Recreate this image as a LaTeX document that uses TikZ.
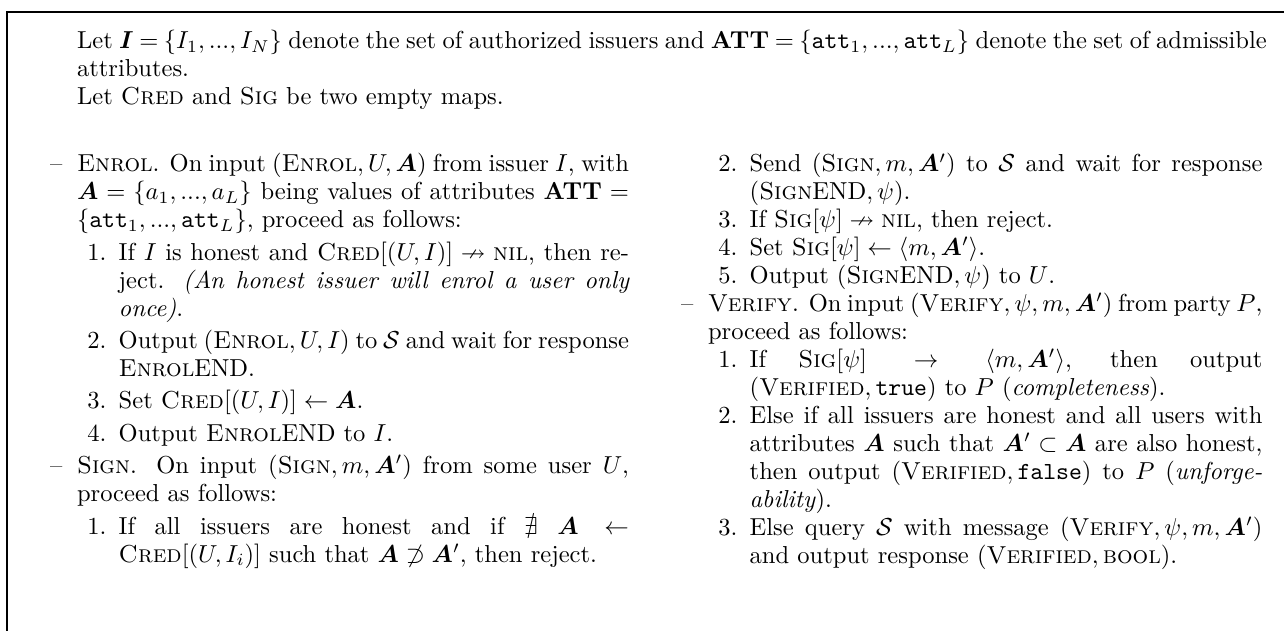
\documentclass[tikz,border=0pt]{standalone}
\usepackage{amsmath,amssymb}
\usepackage{bm}
\usepackage{enumitem}
\usetikzlibrary{calc}

\newcommand{\boxfont}{\fontsize{10}{11.4}\selectfont}
\newcommand{\tightsp}{\spaceskip=3.33pt plus 1.66pt minus 1.6pt\thickmuskip=5mu plus 5mu minus 2mu\relax}
\newcommand{\normalsp}{\spaceskip=0pt\thickmuskip=5mu plus 5mu\relax}

\setlist[itemize]{label={--}, leftmargin=10pt, labelsep=6pt, align=right, topsep=0pt, partopsep=0pt, parsep=0pt, itemsep=1.8pt}
\setlist[enumerate]{label=\arabic*., leftmargin=17pt, labelsep=5pt, align=right, topsep=1.8pt, partopsep=0pt, parsep=0pt, itemsep=1.8pt}

\begin{document}
\begin{tikzpicture}[x=1pt, y=1pt, txt/.style={anchor=base west, inner sep=0pt, outer sep=0pt}]

	\useasboundingbox (0,0) rectangle (523.4,-257.2);
	\clip (0,0) rectangle (523.4,-257.2);

	% frame, runs out of the page on the right and at the bottom
	\coordinate (f0) at (2.85,-4.9);
	\coordinate (f1) at (560,-300);
	\draw[line width=0.75pt] (f0) rectangle (f1);

	\coordinate (top) at (31.4,-19.8);
	\coordinate (colL) at (21.4,-70.1);
	\coordinate (colR) at (278.6,-70.1);

	\node[txt] (defs) at (top) {\begin{minipage}[t]{485pt}\boxfont\tightsp
		Let $\bm{I} = \{I_1, ..., I_N\}$ denote the set of authorized issuers and $\mathbf{ATT} = \{\mathtt{att}_1, ..., \mathtt{att}_L\}$ denote the set of admissible attributes.\\
		Let \textsc{Cred} and \textsc{Sig} be two empty maps.
	\end{minipage}};

	\node[txt] (enrol) at (colL) {\begin{minipage}[t]{235pt}\boxfont
	\begin{itemize}
		\item \textsc{Enrol}. On input $(\textsc{Enrol}, U, \bm{A})$ from issuer $I$, with $\bm{A} = \{a_1, ..., a_L\}$ being values of attributes $\mathbf{ATT} = \{\mathtt{att}_1, ..., \mathtt{att}_L\}$, proceed as follows:
		\begin{enumerate}
			\item If $I$ is honest and $\textsc{Cred}[(U, I)] \nrightarrow \textsc{nil}$, then reject. \emph{(An honest issuer will enrol a user only once)}.
			\item Output $(\textsc{Enrol}, U, I)$ to $\mathcal{S}$ and wait for response \textsc{Enrol}END.
			\item Set $\textsc{Cred}[(U, I)] \leftarrow \bm{A}$.
			\item Output \textsc{Enrol}END to $I$.
		\end{enumerate}
		\item \textsc{Sign}. On input $(\textsc{Sign}, m, \bm{A}')$ from some user $U$, proceed as follows:
		\begin{enumerate}
			\item If all issuers are honest and if $\nexists\ \bm{A} \leftarrow \textsc{Cred}[(U, I_i)]$ such that $\bm{A} \not\supset \bm{A}'$, then reject.
		\end{enumerate}
	\end{itemize}
	\end{minipage}};

	\node[txt] (verify) at (colR) {\begin{minipage}[t]{236pt}\boxfont
	\begin{enumerate}[start=2, leftmargin=27pt, itemsep=0pt, topsep=0pt]
		\item Send $(\textsc{Sign}, m, \bm{A}')$ to $\mathcal{S}$ and wait for response $(\textsc{Sign}\text{END}, \psi)$.
		\item If $\textsc{Sig}[\psi] \nrightarrow \textsc{nil}$, then reject.
		\item Set $\textsc{Sig}[\psi] \leftarrow \langle m, \bm{A}' \rangle$.
		\item Output $(\textsc{Sign}\text{END}, \psi)$ to $U$.
	\end{enumerate}
	\begin{itemize}[itemsep=0pt]
		\item \tightsp\textsc{Verify}. On input $(\textsc{Verify}, \psi, m, \bm{A}')$ from party $P$, proceed as follows:
		\begin{enumerate}[itemsep=0pt, topsep=0pt, before=\normalsp]
			\item If $\textsc{Sig}[\psi] \rightarrow \langle m, \bm{A}' \rangle$, then output $(\textsc{Verified}, \mathtt{true})$ to $P$ (\emph{completeness}).
			\item Else if all issuers are honest and all users with attributes $\bm{A}$ such that $\bm{A}' \subset \bm{A}$ are also honest, then output $(\textsc{Verified}, \mathtt{false})$ to $P$ (\emph{unforgeability}).
			\item Else query $\mathcal{S}$ with message $(\textsc{Verify}, \psi, m, \bm{A}')$ and output response $(\textsc{Verified}, \textsc{bool})$.
		\end{enumerate}
	\end{itemize}
	\end{minipage}};

\end{tikzpicture}
\end{document}
